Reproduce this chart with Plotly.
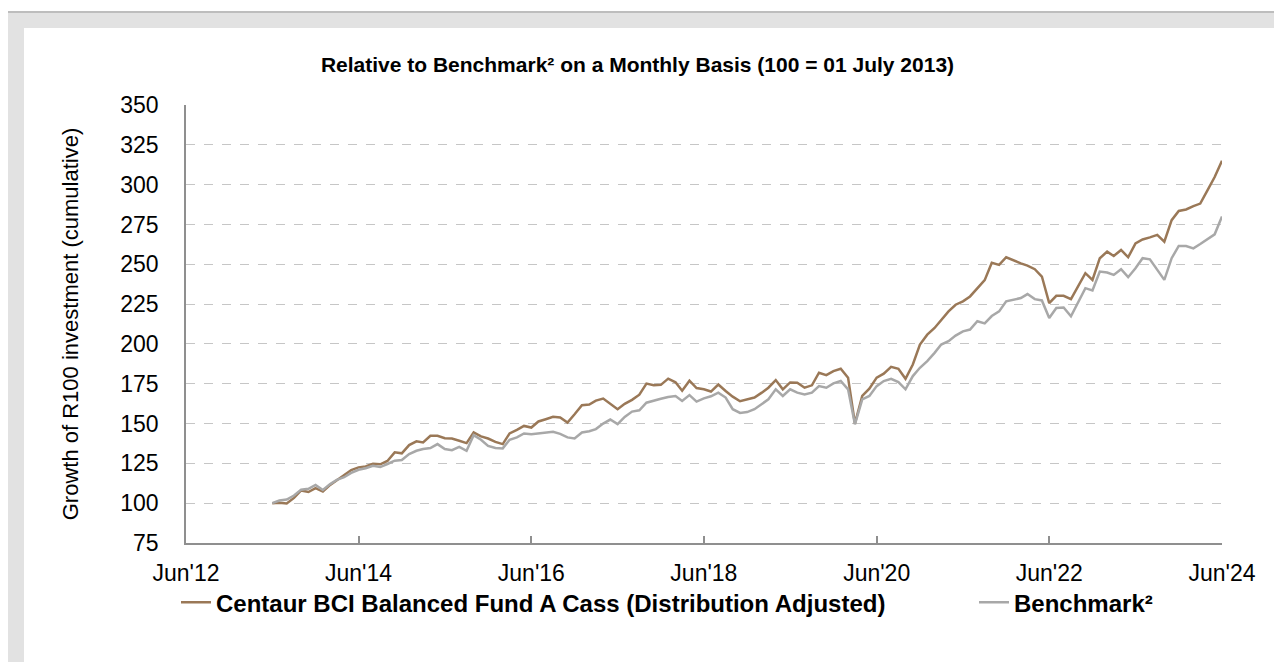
import plotly.graph_objects as go
import pandas as pd

# monthly points, Jun 2013 .. Jun 2024 (100 = start)
months = pd.date_range("2013-06-01", "2024-06-01", freq="MS")

fund = [
    100.0, 100.2, 99.8, 103.3, 108.0, 107.0, 109.4, 107.3, 111.5, 114.6,
    117.7, 120.8, 122.5, 123.1, 124.8, 124.4, 126.5, 131.9, 131.3, 136.5,
    138.8, 138.1, 142.3, 142.3, 140.8, 140.6, 139.2, 137.7, 144.4, 141.9,
    140.6, 138.5, 137.1, 143.8, 146.0, 148.5, 147.5, 151.3, 152.7, 154.2,
    153.8, 150.6, 155.8, 161.5, 161.9, 164.4, 165.7, 162.3, 159.0, 162.4,
    164.9, 168.1, 175.1, 174.0, 174.3, 178.2, 175.9, 170.6, 176.9, 172.3,
    171.5, 170.1, 174.5, 170.4, 166.9, 164.0, 165.0, 166.3, 169.4, 172.5,
    177.3, 171.5, 175.8, 175.6, 172.5, 174.0, 181.9, 180.4, 182.9, 184.4,
    178.8, 150.0, 167.3, 171.9, 178.8, 181.3, 185.6, 184.4, 178.1, 187.1,
    199.6, 205.8, 210.0, 215.2, 220.4, 224.6, 226.7, 229.8, 235.0, 240.0,
    251.0, 249.6, 254.4, 252.3, 250.6, 249.2, 246.9, 242.3, 225.6, 230.2,
    230.2, 228.1, 236.5, 244.4, 240.2, 253.8, 257.9, 255.2, 259.0, 254.4,
    263.1, 265.6, 266.9, 268.5, 264.2, 277.7, 283.5, 284.4, 286.5, 288.1,
    296.5, 304.8, 315.0,
]

benchmark = [
    100.0, 101.7, 102.3, 104.8, 108.5, 109.0, 111.5, 108.3, 112.0, 114.6,
    116.3, 119.0, 121.0, 121.9, 123.5, 122.7, 124.6, 126.7, 127.1, 130.8,
    132.9, 134.0, 134.6, 137.1, 134.0, 133.3, 135.4, 132.9, 142.7, 139.8,
    136.0, 134.6, 134.4, 139.8, 141.3, 143.8, 143.3, 143.8, 144.4, 144.8,
    143.5, 141.3, 140.6, 144.4, 145.2, 146.5, 150.0, 152.5, 149.6, 154.2,
    157.5, 158.3, 163.1, 164.6, 165.6, 166.7, 167.3, 164.2, 167.9, 163.8,
    165.8, 167.1, 169.4, 166.3, 159.0, 156.7, 157.2, 159.0, 162.0, 165.2,
    171.5, 167.3, 171.5, 169.4, 168.3, 169.4, 173.5, 172.5, 175.2, 176.7,
    171.5, 149.5, 165.2, 167.3, 173.5, 176.7, 178.1, 176.0, 171.5, 179.8,
    185.0, 189.2, 194.4, 199.6, 201.7, 205.2, 207.9, 209.0, 214.2, 212.9,
    217.5, 220.4, 226.7, 227.7, 228.8, 231.3, 228.1, 227.3, 216.3, 222.5,
    222.9, 217.3, 225.6, 235.0, 233.5, 245.4, 244.8, 243.3, 246.9, 241.9,
    247.5, 253.8, 253.1, 246.9, 240.2, 253.8, 261.5, 261.5, 260.0, 262.7,
    265.6, 268.8, 280.0,
]

tick_dates = ["2012-06-01", "2014-06-01", "2016-06-01", "2018-06-01",
              "2020-06-01", "2022-06-01", "2024-06-01"]
tick_labels = ["Jun'12", "Jun'14", "Jun'16", "Jun'18", "Jun'20", "Jun'22", "Jun'24"]
y_ticks = [75, 100, 125, 150, 175, 200, 225, 250, 275, 300, 325, 350]

FONT = "Liberation Sans, Arial, sans-serif"
W, H = 1282, 662
# plot area edges in figure pixels
L, R, T, B = 178, 1214, 97, 535.3


def px(x):
    return (x - L) / (R - L)


def py(y):
    return (B - y) / (B - T)


fig = go.Figure()
fig.add_trace(go.Scatter(x=months, y=fund, mode="lines", legend="legend",
                         name="Centaur BCI Balanced Fund A Cass (Distribution Adjusted)",
                         line=dict(color="#9a7857", width=2.5)))
fig.add_trace(go.Scatter(x=months, y=benchmark, mode="lines", legend="legend2",
                         name="Benchmark²",
                         line=dict(color="#a8a8a8", width=2.5)))

# grey frame around the white panel
fig.add_shape(type="rect", xref="paper", yref="paper", layer="below",
              x0=px(0), x1=px(1272), y0=py(H), y1=py(4),
              fillcolor="#e2e2e2", line=dict(width=0))
fig.add_shape(type="line", xref="paper", yref="paper", layer="below",
              x0=px(0), x1=px(1272), y0=py(4), y1=py(4),
              line=dict(color="#bdbdbd", width=2))
fig.add_shape(type="rect", xref="paper", yref="paper", layer="below",
              x0=px(16), x1=px(1267), y0=py(H), y1=py(20),
              fillcolor="white", line=dict(width=0))

legend_font = dict(family=FONT, size=24, color="#000000", weight="bold")

fig.update_layout(
    width=W, height=H,
    margin=dict(l=L, r=W - R, t=T, b=H - B),
    paper_bgcolor="white", plot_bgcolor="rgba(0,0,0,0)",
    font=dict(family=FONT, color="#000000"),
    title=dict(text="Relative to Benchmark² on a Monthly Basis (100 = 01 July 2013)",
               font=dict(family=FONT, size=21, color="#000000", weight="bold"),
               x=629.5 / W, xanchor="center", y=1 - 57 / H, yanchor="middle"),
    legend=dict(orientation="h", x=px(168), xanchor="left", y=py(595), yanchor="middle",
                font=legend_font, bgcolor="rgba(0,0,0,0)"),
    legend2=dict(orientation="h", x=px(966), xanchor="left", y=py(595), yanchor="middle",
                 font=legend_font, bgcolor="rgba(0,0,0,0)"),
    showlegend=True,
)

fig.update_xaxes(
    range=["2012-06-01", "2024-06-01"],
    tickvals=tick_dates, ticktext=tick_labels,
    showgrid=False, zeroline=False,
    showline=True, linecolor="#8f8f8f", linewidth=1.5,
    ticks="inside", ticklen=7, tickcolor="#8f8f8f", tickwidth=1.5,
    tickfont=dict(family=FONT, size=23, color="#000000"),
    ticklabelstandoff=9,
)
fig.update_yaxes(
    range=[75, 350], tickvals=y_ticks,
    showgrid=True, gridcolor="#c6c6c6", griddash="dash", gridwidth=1,
    zeroline=False,
    showline=True, linecolor="#8f8f8f", linewidth=1.5,
    ticks="", tickfont=dict(family=FONT, size=23, color="#000000"),
    ticklabelstandoff=21,
    title=dict(text="Growth of R100 investment (cumulative)", standoff=36,
               font=dict(family=FONT, size=22, color="#000000")),
)

fig.write_html("out.html")
